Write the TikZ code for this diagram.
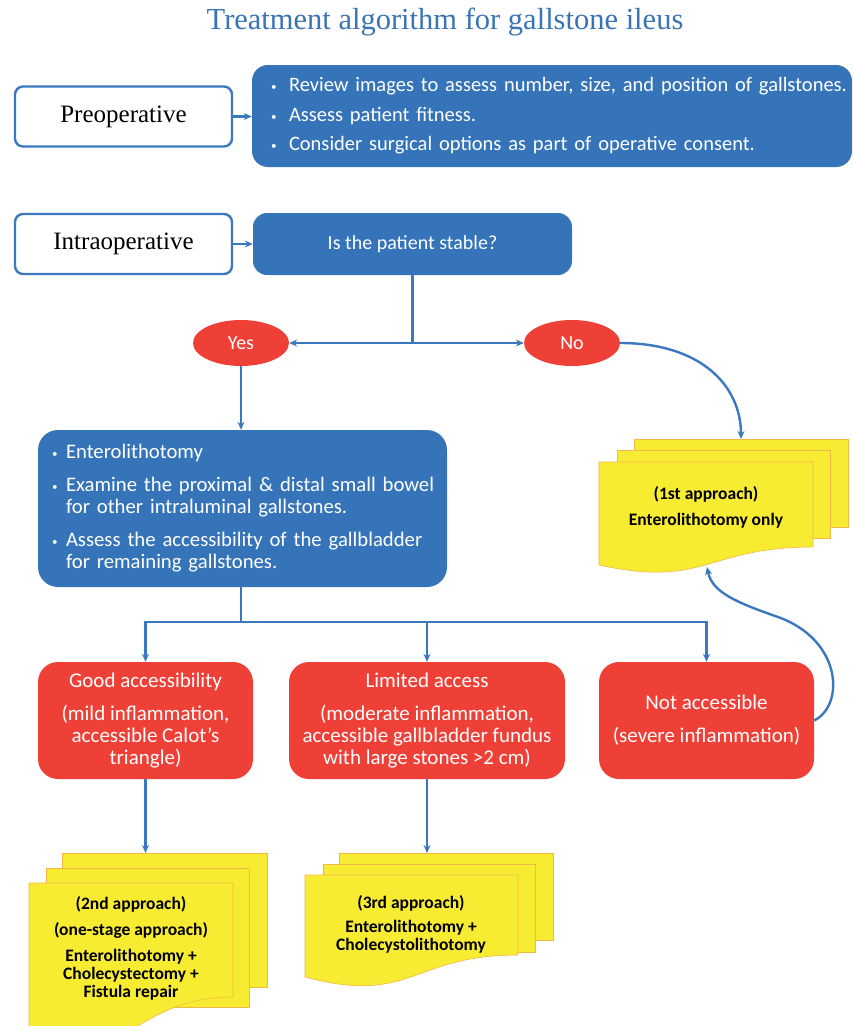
\documentclass[tikz,border=0pt]{standalone}
\usepackage{fontspec}
\setmainfont{Carlito}
\newfontfamily\garafont{Liberation Serif}
\usetikzlibrary{arrows.meta,positioning,shapes.geometric}

\definecolor{boxblue}{HTML}{3674BA}
\definecolor{lineblue}{HTML}{3B78C0}
\definecolor{ttlblue}{HTML}{3A74B6}
\definecolor{boxred}{HTML}{EE4036}
\definecolor{docyellow}{HTML}{F8EC33}
\definecolor{docedge}{HTML}{F2B847}

% bullet lines that never break
\newlength{\bltind}
\setlength{\bltind}{18pt}
\newcommand{\blt}[1]{\mbox{\makebox[\bltind][l]{\raisebox{1pt}{\fontsize{11}{11}\selectfont\textbullet}}#1}}
\newcommand{\cnt}[1]{\mbox{\hspace{\bltind}#1}}
% front sheet of a stack: x0, top, x1, left bottom, right bottom
\newcommand{\docsheet}[5]{%
  \draw[sheet] (#1,#2) -- (#3,#2) -- (#3,#5)
    .. controls ({(#1+#3)/2},#5) and ({(#1+#3)/2},{#4+1.3*(#4-#5)}) .. (#1,#4) -- cycle;}

\begin{document}
\begin{tikzpicture}[x=1pt,y=-1pt,
    phase/.style={draw=lineblue, line width=2.4pt, rounded corners=8pt, fill=white,
      minimum width=217pt, minimum height=60pt, font=\garafont\fontsize{25}{27}\selectfont},
    bluebox/.style={fill=boxblue, rounded corners=16pt, text=white, inner sep=0pt},
    redbox/.style={fill=boxred, rounded corners=20pt, text=white, align=center,
      minimum height=117pt, font=\fontsize{21}{22}\selectfont},
    answer/.style={ellipse, fill=boxred, text=white, minimum width=96pt,
      minimum height=46pt, font=\fontsize{20}{22}\selectfont},
    sheet/.style={fill=docyellow, draw=docedge, line width=0.6pt},
    apptext/.style={align=center, font=\bfseries\fontsize{17.5}{18}\selectfont},
    wire/.style={draw=lineblue, line width=2.4pt},
    flow/.style={wire, -{Stealth[length=8pt,width=7pt]}}]
\useasboundingbox (0,0) rectangle (852,1026);

% titolo
\node[font=\garafont\fontsize{30.5}{32}\selectfont, text=ttlblue] (title) at (445,22)
  {Treatment algorithm for gallstone ileus};

% fase preoperatoria
\node[phase] (preop) at (123.5,116.5) {Preoperative};
\node[bluebox, minimum width=600pt, minimum height=102pt, text width=562pt,
  inner xsep=19pt, align=left, font=\fontsize{20.5}{29.5}\selectfont] (review) at (552,116)
  {\blt{Review images to assess number, size, and position of gallstones.}\\
   \blt{Assess patient fitness.}\\
   \blt{Consider surgical options as part of operative consent.}};

% fase intraoperatoria
\node[phase] (intraop) at (123.5,244) {Intraoperative};
\node[bluebox, rounded corners=14pt, minimum width=319pt, minimum height=62pt,
  font=\fontsize{20}{22}\selectfont] (stable) at (412.5,244) {Is the patient stable?};

\node[answer] (yes) at (241,343) {Yes};
\node[answer] (no) at (572,343) {No};
\coordinate (split) at (412.5,343);

\node[bluebox, rounded corners=20pt, minimum width=409pt, minimum height=157pt,
  text width=381pt, inner xsep=14pt, align=left, font=\fontsize{20.7}{22}\selectfont,
  execute at begin node=\setlength{\bltind}{14pt}]
  (entero) at (242.5,508.5)
  {\blt{Enterolithotomy}\\[11pt]
   \blt{Examine the proximal \& distal small bowel}\\
   \cnt{for other intraluminal gallstones.}\\[11pt]
   \blt{Assess the accessibility of the gallbladder}\\
   \cnt{for remaining gallstones.}};
\coordinate (fork) at (241,622);

% accessibilita della colecisti
\node[redbox, minimum width=215pt] (good) at (145.5,720.5)
  {Good accessibility\\[11pt](mild inflammation,\\accessible Calot’s\\triangle)};
\node[redbox, minimum width=276pt] (limited) at (427,720.5)
  {Limited access\\[11pt](moderate inflammation,\\accessible gallbladder fundus\\with large stones >2 cm)};
\node[redbox, minimum width=215pt] (notacc) at (706.5,720.5)
  {Not accessible\\[11pt](severe inflammation)};

% pile di documenti
\draw[sheet] (634,439) rectangle (848,527);
\draw[sheet] (617,450) rectangle (830,538);
\docsheet{599}{462}{813}{565}{547}
\node[apptext, font=\bfseries\fontsize{17.5}{26}\selectfont] (first) at (706,507)
  {(1st approach)\\Enterolithotomy only};
\coordinate (s1top) at (741,439);
\coordinate (s1bot) at (707,567);

\draw[sheet] (62,853) rectangle (267,987);
\draw[sheet] (46,868) rectangle (249,1007);
\docsheet{29}{883}{233}{1030}{997}
\node[apptext] (second) at (131,948)
  {(2nd approach)\\[8pt](one-stage approach)\\[8pt]Enterolithotomy +\\Cholecystectomy +\\Fistula repair};
\coordinate (s2top) at (145.5,853);

\draw[sheet] (339,853) rectangle (553,940);
\draw[sheet] (323,864) rectangle (535,952);
\docsheet{305}{875}{518}{977}{955}
\node[apptext] (third) at (411,924)
  {(3rd approach)\\[6pt]Enterolithotomy +\\Cholecystolithotomy};
\coordinate (s3top) at (427,853);

% frecce
\draw[flow] (preop.east) -- (preop.east -| review.west);
\draw[flow] (intraop.east) -- (intraop.east -| stable.west);
\draw[wire] (stable.south -| split) -- (split);
\draw[flow] (split) -- (yes.east);
\draw[flow] (split) -- (no.west);
\draw[flow] (yes.south) -- (yes.south |- entero.north);
\draw[flow] (no.east) .. controls (700,343) and (741,385) .. (s1top);
\draw[wire] (fork |- entero.south) -- (fork);
\draw[flow] (fork) -| (good.north);
\draw[flow] (fork) -| (notacc.north);
\draw[flow] (limited.north |- fork) -- (limited.north);
\draw[flow] (good.south) -- (s2top);
\draw[flow] (limited.south) -- (s3top);
\draw[flow] (notacc.east) .. controls (845,705) and (842,640) .. (778,617)
  .. controls (735,602) and (712,592) .. (s1bot);
\end{tikzpicture}
\end{document}
